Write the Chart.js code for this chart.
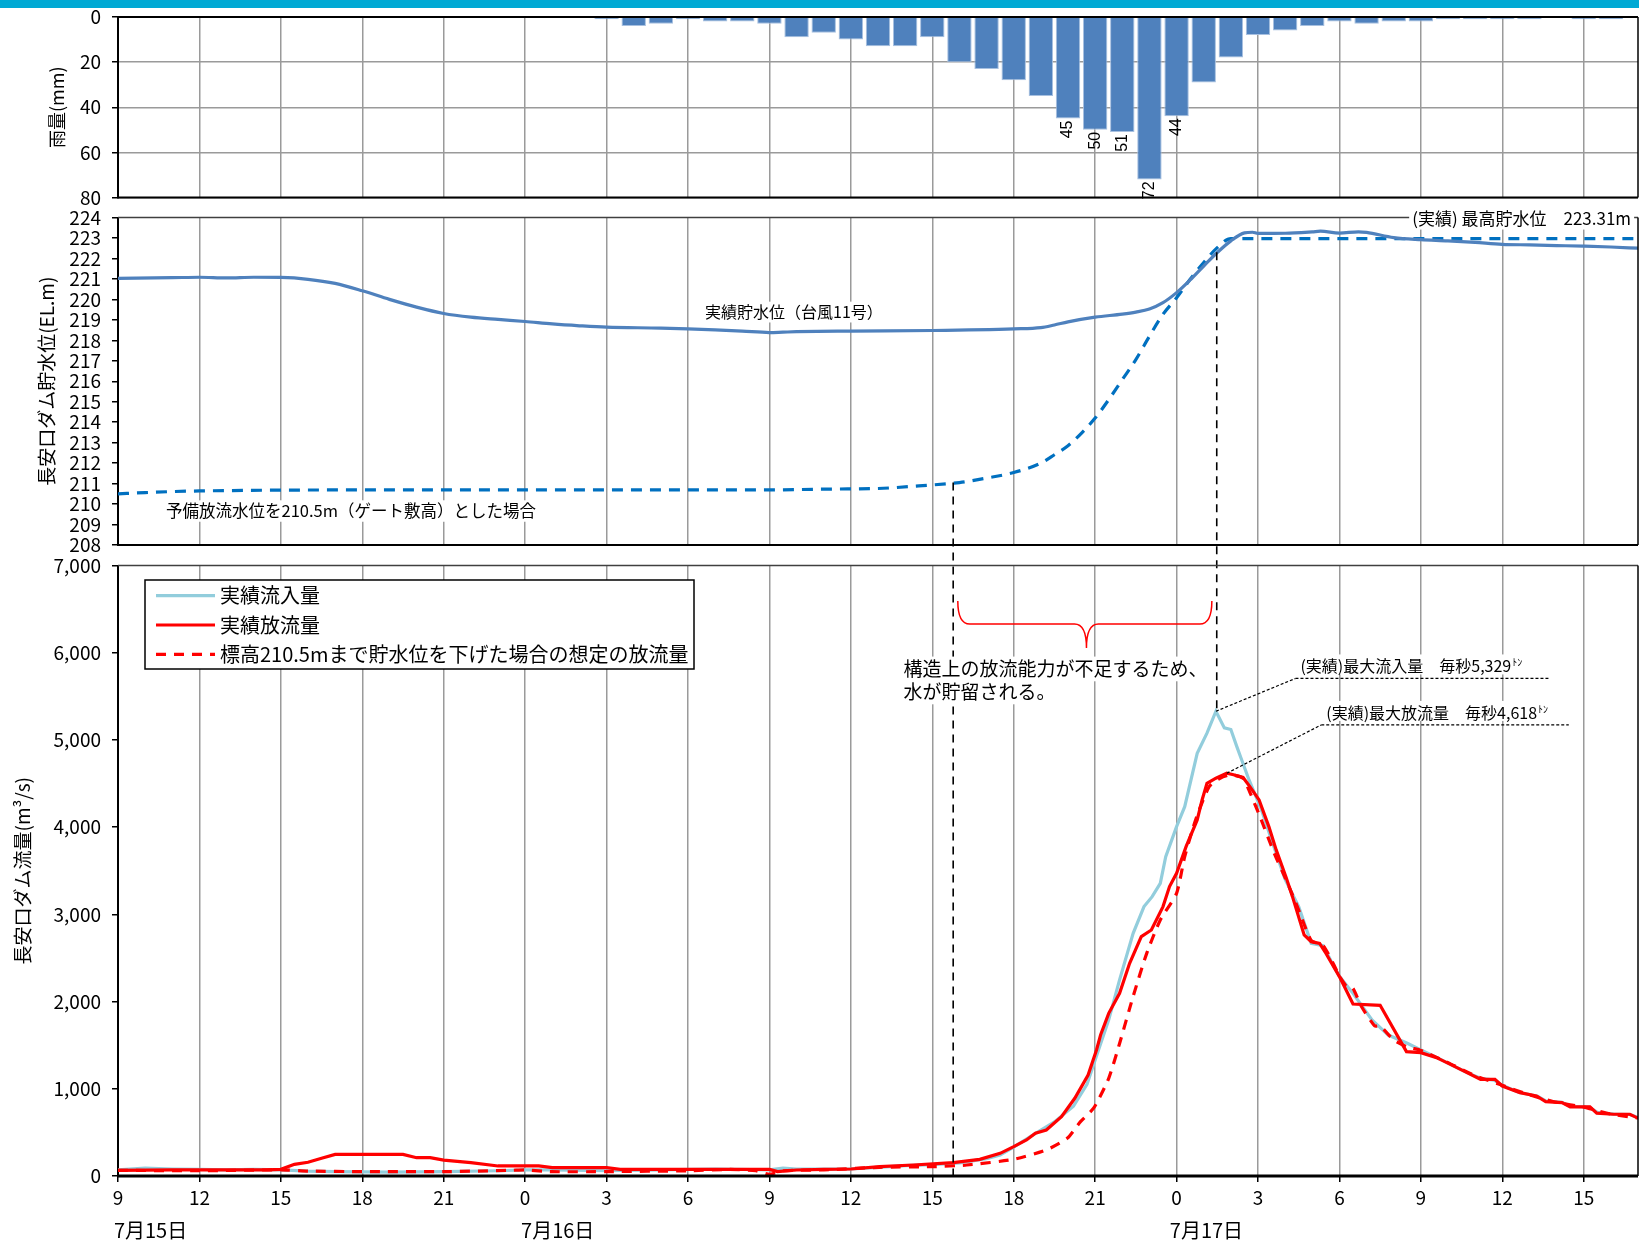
<!DOCTYPE html>
<html lang="ja">
<head>
<meta charset="utf-8">
<title>長安口ダム 雨量・貯水位・流量</title>
<script src="https://cdn.jsdelivr.net/npm/chart.js@4.4.1/dist/chart.umd.min.js"></script>
<style>
  html, body { margin: 0; padding: 0; background: #fff; }
  #wrap { position: relative; width: 1639px; height: 1242px; overflow: hidden; }
  #topbar { position: absolute; left: 0; top: 0; width: 1639px; height: 8px; background: #00a9d4; }
  canvas { position: absolute; left: 0; top: 0; }
  #rainChart { top: -20px; }
</style>
</head>
<body>
<div id="wrap">
  <div id="topbar"></div>
  <canvas id="rainChart" width="1639" height="1242"></canvas>
  <canvas id="levelChart" width="1639" height="1242"></canvas>
  <canvas id="flowChart" width="1639" height="1242"></canvas>
</div>
<script>
// ===== DATA =====
// x = hours counted from 7/15 9:00 (0) up to 7/17 17:00 (56)
const xTickHours  = [0, 3, 6, 9, 12, 15, 18, 21, 24, 27, 30, 33, 36, 39, 42, 45, 48, 51, 54];
const xTickLabels = ["9","12","15","18","21","0","3","6","9","12","15","18","21","0","3","6","9","12","15"];
const dayLabels     = ["7月15日", "7月16日", "7月17日"];
const dayLabelHours = [1.2, 16.2, 40.1];

// hourly rainfall (mm)
const rainHours  = [18,19,20,21,22,23,24,25,26,27,28,29,30,31,32,33,34,35,36,37,38,39,40,41,42,43,44,45,46,47,48,49,50,51,52,53,54,55];
const rainValues = [1,4,3,1,2,2,3,9,7,10,13,13,9,20,23,28,35,45,50,51,72,44,29,18,8,6,4,2,3,2,2,1,1,1,1,0,1,1];
const rainTicks  = [0, 20, 40, 60, 80];

// reservoir level (EL.m)
const levelHours  = [0,2,3,4,5,6,7,8,9,10,11,12,13,14,15,16,17,18,20,21,22,23,24,24.5,25,27,30,33,34,34.5,35,36,37,37.5,38,38.5,39,39.5,40,40.5,41,41.5,41.8,42,43,44,44.3,45,45.7,46,47,48,49,50,51,52,53,54,55,56];
const levelValues = [221.03,221.06,221.08,221.05,221.08,221.07,220.98,220.78,220.42,220.0,219.62,219.31,219.13,219.02,218.92,218.8,218.71,218.64,218.6,218.56,218.51,218.45,218.38,218.4,218.42,218.45,218.48,218.56,218.62,218.75,218.9,219.13,219.28,219.38,219.53,219.84,220.33,220.95,221.63,222.29,222.86,223.25,223.28,223.22,223.23,223.3,223.33,223.24,223.3,223.27,223.02,222.92,222.86,222.78,222.69,222.66,222.63,222.6,222.56,222.5];
const planLevelHours  = [0,1,2,3,6,9,24,26,28,29.5,31,32,33,34,34.5,35,35.5,36,36.5,37,37.5,38,38.5,39,39.5,40,40.5,41,56];
const planLevelValues = [210.5,210.56,210.61,210.64,210.68,210.69,210.69,210.73,210.76,210.89,211.05,211.27,211.54,212.0,212.41,212.85,213.47,214.2,215.1,216.08,217.06,218.2,219.27,220.08,220.98,221.8,222.53,222.97,222.97];
const levelTicks = [208,209,210,211,212,213,214,215,216,217,218,219,220,221,222,223,224];

// dam flow (m3/s)
const inflowHours  = [0,1,2,3,4,5,6,7,8,10,12,14,15,16,18,20,22,24,24.5,25,27,28,29,30,31,32,32.5,33,33.7,34.5,35.2,35.7,36,36.5,36.9,37.4,37.8,38.1,38.4,38.6,39,39.3,39.76,40.12,40.45,40.76,41,41.22,41.4,41.67,42.13,42.5,43,43.5,43.96,44.4,44.8,45,45.5,46.2,46.8,47.5,48,48.6,49.2,49.7,50.2,50.7,51,51.6,52.3,52.6,53.2,53.5,54.2,54.5,55.1,55.7,56];
const inflowValues = [70,90,80,75,70,75,70,55,50,45,50,60,70,70,60,70,80,70,90,80,80,100,120,130,150,200,240,330,470,620,800,1050,1330,1790,2248,2783,3089,3203,3356,3662,4006,4235,4847,5077,5329,5138,5119,4923,4770,4541,4197,3854,3400,3089,2668,2640,2400,2290,2094,1789,1616,1522,1446,1357,1262,1185,1120,1100,1040,960,915,860,845,800,790,730,710,705,670];
const outflowHours  = [0,2,4,5.5,6,6.5,7,7.5,8,10.5,11,11.5,12,13,14,15.5,16,18,18.5,24,24.3,25,26,27,28.06,29.3,30.77,31.75,32.5,33,33.47,33.8,34.2,34.76,35.25,35.74,36.05,36.2,36.5,36.9,37.27,37.7,38.07,38.5,38.74,39,39.35,39.76,39.94,40.12,40.45,40.85,41.1,41.45,41.7,42.04,42.4,42.67,43.04,43.27,43.7,43.96,44.27,44.5,45,45.5,46.5,47.47,48,48.58,49.2,49.7,50.2,50.73,51,51.65,52.26,52.6,53.2,53.5,54.23,54.48,55.09,55.7,56];
const outflowValues = [65,70,70,70,76,134,157,203,248,248,210,210,183,153,115,115,96,96,76,76,50,69,75,80,107,126,153,191,260,336,413,490,527,680,891,1158,1445,1617,1865,2094,2439,2745,2821,3089,3318,3471,3777,4083,4312,4503,4561,4618,4600,4570,4465,4312,4006,3739,3420,3203,2764,2687,2668,2554,2286,1972,1957,1426,1414,1357,1262,1185,1109,1109,1032,956,918,853,842,792,792,720,708,708,663];
const planFlowHours  = [0,3,6,7,9,12,14.5,15,16,18,21,22.5,23.5,24,24.5,26,28.06,30,31.27,33,34.2,34.97,35.46,35.95,36.5,36.9,37.4,37.9,38.4,39,39.3,39.7,40.2,40.6,41,41.45,41.7,42.1,42.6,43.1,43.5,43.96,44.4,44.8,45,45.3,45.5,45.8,46.3,46.5,47,47.5,48,49,50,51,52,53,54,55,56];
const planFlowValues = [65,60,70,57,50,50,65,70,50,50,60,75,60,20,60,70,100,107,126,191,298,432,623,780,1120,1520,2060,2553,2936,3241,3662,4083,4465,4560,4600,4560,4400,4100,3700,3350,3050,2700,2640,2420,2290,2160,2150,1950,1720,1720,1560,1480,1440,1300,1150,1040,930,845,790,710,665];
const flowTicks = [0, 1000, 2000, 3000, 4000, 5000, 6000, 7000];

// ===== STYLE =====
const FONT = "'Noto Sans CJK JP', 'Noto Sans', sans-serif";
const GRID = "#9a9a9a";
Chart.defaults.font.family = FONT;
Chart.defaults.color = "#000";

const tickFont = { family: FONT, size: 19 };

const pts = (xs, ys) => xs.map((x, i) => ({ x: x, y: ys[i] }));

// ===== HELPERS =====
function line(ctx, x1, y1, x2, y2){
  ctx.beginPath();
  ctx.moveTo(x1, y1);
  ctx.lineTo(x2, y2);
  ctx.stroke();
}

// text on a white box, left aligned, vertically centred on y
function boxText(ctx, text, x, y, size, pad = 2){
  ctx.save();
  ctx.font = size + "px " + FONT;
  const w = ctx.measureText(text).width;
  ctx.fillStyle = "#fff";
  ctx.fillRect(x - pad, y - size * 0.65, w + pad * 2, size * 1.3);
  ctx.fillStyle = "#000";
  ctx.textAlign = "left";
  ctx.textBaseline = "middle";
  ctx.fillText(text, x, y);
  ctx.restore();
  return w;
}

function xScale(showLabels){
  return {
    type: "linear", min: 0, max: 56, offset: false,
    afterBuildTicks: s => { s.ticks = xTickHours.map(v => ({ value: v })); },
    afterFit: s => { s.height = showLabels ? 66 : 0; },
    ticks: {
      display: showLabels, autoSkip: false, maxRotation: 0, padding: 4,
      font: tickFont, color: "#000",
      callback: v => xTickLabels[xTickHours.indexOf(v)]
    },
    grid: { color: GRID, lineWidth: 1.5, offset: false, drawTicks: showLabels, tickLength: 6, tickColor: "#000", tickWidth: 1.5 },
    border: { display: false }
  };
}

function yScale(ticks, min, max, o){
  return {
    type: "linear", min: min, max: max, reverse: !!o.reverse,
    afterBuildTicks: s => { s.ticks = ticks.map(v => ({ value: v })); },
    afterFit: s => { s.width = 118; },
    ticks: { autoSkip: false, padding: 11, font: tickFont, color: "#000", callback: o.fmt || (v => v) },
    grid: { drawOnChartArea: !!o.hgrid, color: GRID, lineWidth: 1.5, tickLength: 6, tickColor: "#000", tickWidth: 1.5 },
    border: { display: true, color: "#000", width: 2 },
    title: { display: true, text: o.title, font: { family: FONT, size: o.titleSize }, color: "#000", padding: { top: o.titlePad, bottom: 0 } }
  };
}

function baseOptions(padTop, padBottom){
  return {
    responsive: false, animation: false, events: [],
    layout: { padding: { top: padTop, bottom: padBottom, left: 0, right: 1 } },
    plugins: { legend: { display: false }, tooltip: { enabled: false } }
  };
}

// ===== PLUGINS =====
const framePlugin = {
  id: "frame",
  afterDraw(chart, args, o){
    const { ctx, chartArea: a } = chart;
    ctx.save();
    ctx.strokeStyle = o.topColor; ctx.lineWidth = o.topWidth;
    line(ctx, a.left, a.top, a.right, a.top);
    ctx.strokeStyle = "#000"; ctx.lineWidth = 1.5;
    line(ctx, a.right, a.top, a.right, a.bottom);
    ctx.lineWidth = o.bottomWidth;
    line(ctx, a.left - 1, a.bottom, a.right, a.bottom);
    ctx.restore();
  }
};

const rainLabels = {
  id: "rainLabels",
  afterDatasetsDraw(chart){
    const { ctx } = chart;
    const meta = chart.getDatasetMeta(0);
    ctx.save();
    ctx.font = "16px 'Liberation Sans', Arial, sans-serif";
    ctx.fillStyle = "#000";
    ctx.textAlign = "right";
    ctx.textBaseline = "middle";
    meta.data.forEach((bar, i) => {
      if (rainValues[i] < 40) return;
      ctx.save();
      ctx.translate(bar.x, bar.y + 2);
      ctx.rotate(-Math.PI / 2);
      ctx.fillText(String(rainValues[i]), 0, 0);
      ctx.restore();
    });
    ctx.restore();
  }
};

const levelNotes = {
  id: "levelNotes",
  afterDatasetsDraw(chart){
    const { ctx, scales: { x, y } } = chart;
    boxText(ctx, "実績貯水位（台風11号）", x.getPixelForValue(21.63), y.getPixelForValue(219.38), 16);
    boxText(ctx, "予備放流水位を210.5m（ゲート敷高）とした場合", x.getPixelForValue(1.77), y.getPixelForValue(209.66), 16.5);
  },
  afterDraw(chart){
    const { ctx, chartArea: a, scales: { x } } = chart;
    boxText(ctx, "(実績) 最高貯水位　223.31m", x.getPixelForValue(47.68), a.top + 1, 17, 3);
  }
};

// drop lines from the level panel, brace, call-outs, legend and day labels
const flowNotes = {
  id: "flowNotes",
  afterDatasetsDraw(chart){
    const { ctx, scales: { x, y } } = chart;
    const ly = levelChart.scales.y;
    ctx.save();

    // vertical dashed lines
    ctx.strokeStyle = "#000"; ctx.lineWidth = 1.6; ctx.setLineDash([8, 6]);
    line(ctx, x.getPixelForValue(30.77), ly.getPixelForValue(211.05), x.getPixelForValue(30.77), y.getPixelForValue(0));
    line(ctx, x.getPixelForValue(40.48), ly.getPixelForValue(222.3), x.getPixelForValue(40.48), y.getPixelForValue(5329));

    // red brace
    ctx.setLineDash([]);
    ctx.strokeStyle = "#ff0000"; ctx.lineWidth = 1.5;
    const xL = x.getPixelForValue(30.94), xR = x.getPixelForValue(40.3), xC = x.getPixelForValue(35.68);
    const yT = y.getPixelForValue(6594), yM = y.getPixelForValue(6330), yTip = y.getPixelForValue(6055);
    const r = 12;
    ctx.beginPath();
    ctx.moveTo(xL, yT);
    ctx.quadraticCurveTo(xL, yM, xL + r, yM);
    ctx.lineTo(xC - r, yM);
    ctx.quadraticCurveTo(xC, yM, xC, yTip);
    ctx.quadraticCurveTo(xC, yM, xC + r, yM);
    ctx.lineTo(xR - r, yM);
    ctx.quadraticCurveTo(xR, yM, xR, yT);
    ctx.stroke();

    boxText(ctx, "構造上の放流能力が不足するため、", x.getPixelForValue(28.94), y.getPixelForValue(5814), 19);
    boxText(ctx, "水が貯留される。", x.getPixelForValue(28.94), y.getPixelForValue(5550), 19);

    // peak call-outs
    const callouts = [
      { from: [40.45, 5329], start: 43.38, end: 52.7, v: 5705, text: "(実績)最大流入量　毎秒5,329" },
      { from: [40.85, 4618], start: 44.33, end: 53.45, v: 5172, text: "(実績)最大放流量　毎秒4,618" }
    ];
    callouts.forEach(c => {
      const uy = y.getPixelForValue(c.v);
      const ux1 = x.getPixelForValue(c.start), ux2 = x.getPixelForValue(c.end);
      ctx.font = "16px " + FONT;
      const w = ctx.measureText(c.text).width;
      ctx.fillStyle = "#fff";
      ctx.fillRect(ux1 + 3, uy - 24, w + 20, 20);
      ctx.fillStyle = "#000";
      ctx.textAlign = "left"; ctx.textBaseline = "alphabetic";
      ctx.fillText(c.text, ux1 + 5, uy - 6);
      ctx.font = "10px " + FONT;
      ctx.fillText("ﾄﾝ", ux1 + 6 + w, uy - 12);
      ctx.strokeStyle = "#000"; ctx.lineWidth = 1.2; ctx.setLineDash([3, 2]);
      line(ctx, x.getPixelForValue(c.from[0]), y.getPixelForValue(c.from[1]), ux1, uy);
      line(ctx, ux1, uy, ux2, uy);
    });
    ctx.restore();
  },
  afterDraw(chart){
    const { ctx, chartArea: a, scales: { x } } = chart;
    ctx.save();

    // legend box
    const bx = a.left + 27, by = a.top + 14.5, bw = 549, bh = 89;
    ctx.fillStyle = "#fff";
    ctx.fillRect(bx, by, bw, bh);
    ctx.strokeStyle = "#000"; ctx.lineWidth = 1.5;
    ctx.strokeRect(bx, by, bw, bh);
    chart.data.datasets.forEach((ds, i) => {
      const ry = by + 15.7 + i * 29.3;
      ctx.strokeStyle = ds.borderColor; ctx.lineWidth = ds.borderWidth;
      ctx.setLineDash(ds.borderDash || []);
      line(ctx, bx + 11, ry, bx + 70, ry);
      ctx.setLineDash([]);
      ctx.fillStyle = "#000"; ctx.font = "20px " + FONT;
      ctx.textAlign = "left"; ctx.textBaseline = "middle";
      ctx.fillText(ds.label, bx + 75, ry);
    });

    // day labels under the hour ticks
    ctx.font = "20px " + FONT;
    ctx.textAlign = "center"; ctx.textBaseline = "middle"; ctx.fillStyle = "#000";
    dayLabels.forEach((t, i) => ctx.fillText(t, x.getPixelForValue(dayLabelHours[i]), 1230));
    ctx.restore();
  }
};

// ===== RAIN CHART (canvas shifted up 20px) =====
const rainOpts = baseOptions(37, 1024.5);
rainOpts.scales = {
  x: xScale(false),
  y: yScale(rainTicks, 0, 80, { reverse: true, hgrid: true, title: "雨量(mm)", titleSize: 18, titlePad: 46.7 })
};
rainOpts.plugins.frame = { topColor: "#000", topWidth: 1.8, bottomWidth: 2 };

const rainChart = new Chart(document.getElementById("rainChart"), {
  type: "bar",
  data: {
    datasets: [{
      label: "雨量",
      data: pts(rainHours, rainValues),
      backgroundColor: "#4f81bd",
      borderColor: "#a7c0e0",
      borderWidth: 1,
      barPercentage: 0.9,
      categoryPercentage: 1
    }]
  },
  options: rainOpts,
  plugins: [framePlugin, rainLabels]
});

// ===== LEVEL CHART =====
const levelOpts = baseOptions(217.5, 697);
levelOpts.scales = {
  x: xScale(false),
  y: yScale(levelTicks, 208, 224, { title: "長安口ダム貯水位(EL.m)", titleSize: 19, titlePad: 35.6 })
};
levelOpts.plugins.frame = { topColor: "#404040", topWidth: 1.5, bottomWidth: 2 };

const levelChart = new Chart(document.getElementById("levelChart"), {
  type: "line",
  data: {
    datasets: [
      {
        label: "実績貯水位（台風11号）",
        data: pts(levelHours, levelValues),
        borderColor: "#4f81bd", borderWidth: 3.2,
        pointRadius: 0, cubicInterpolationMode: "monotone"
      },
      {
        label: "予備放流水位を210.5m（ゲート敷高）とした場合",
        data: pts(planLevelHours, planLevelValues),
        borderColor: "#0070c0", borderWidth: 3.2, borderDash: [11, 8],
        pointRadius: 0, cubicInterpolationMode: "monotone"
      }
    ]
  },
  options: levelOpts,
  plugins: [framePlugin, levelNotes]
});

// ===== FLOW CHART =====
const flowOpts = baseOptions(565.5, 0);
flowOpts.scales = {
  x: xScale(true),
  y: yScale(flowTicks, 0, 7000, { title: "長安口ダム流量(m³/s)", titleSize: 19, titlePad: 11.6, fmt: v => v.toLocaleString("en-US") })
};
flowOpts.plugins.frame = { topColor: "#404040", topWidth: 1.5, bottomWidth: 3 };

const flowChart = new Chart(document.getElementById("flowChart"), {
  type: "line",
  data: {
    datasets: [
      {
        label: "実績流入量",
        data: pts(inflowHours, inflowValues),
        borderColor: "#92cddc", borderWidth: 3.2,
        pointRadius: 0, tension: 0, order: 3
      },
      {
        label: "実績放流量",
        data: pts(outflowHours, outflowValues),
        borderColor: "#ff0000", borderWidth: 3.2,
        pointRadius: 0, tension: 0, order: 1
      },
      {
        label: "標高210.5mまで貯水位を下げた場合の想定の放流量",
        data: pts(planFlowHours, planFlowValues),
        borderColor: "#ff0000", borderWidth: 3.2, borderDash: [10, 8],
        pointRadius: 0, tension: 0.2, order: 2
      }
    ]
  },
  options: flowOpts,
  plugins: [framePlugin, flowNotes]
});
</script>
</body>
</html>
